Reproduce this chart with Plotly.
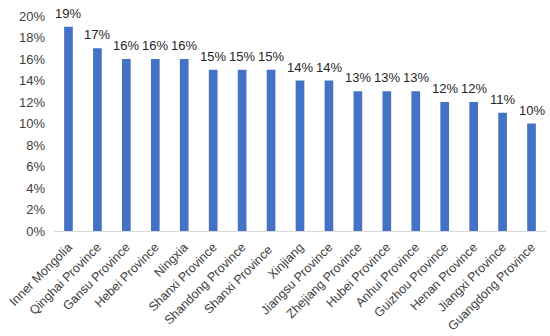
import plotly.graph_objects as go

categories = ["Inner Mongolia", "Qinghai Province", "Gansu Province", "Hebei Province",
              "Ningxia", "Shanxi Province", "Shandong Province", "Shanxi Province ",
              "Xinjiang", "Jiangsu Province", "Zhejiang Province", "Hubei Province",
              "Anhui Province", "Guizhou Province", "Henan Province", "Jiangxi Province",
              "Guangdong Province"]
values = [0.19, 0.17, 0.16, 0.16, 0.16, 0.15, 0.15, 0.15, 0.14, 0.14, 0.13, 0.13,
          0.13, 0.12, 0.12, 0.11, 0.10]
y_ticks = [0, 0.02, 0.04, 0.06, 0.08, 0.10, 0.12, 0.14, 0.16, 0.18, 0.20]
y_tick_labels = ["0%", "2%", "4%", "6%", "8%", "10%", "12%", "14%", "16%", "18%", "20%"]

font_family = "Liberation Sans, Arial, sans-serif"

fig = go.Figure()
fig.add_trace(go.Bar(
    x=categories, y=values,
    marker=dict(color="#4472C4", line=dict(width=0)),
    hoverinfo="skip",
))

for c, v in zip(categories, values):
    fig.add_annotation(
        x=c, y=v, xref="x", yref="y",
        text=f"{round(v*100)}%",
        showarrow=False, yanchor="bottom", xanchor="center",
        yshift=4,
        font=dict(family=font_family, size=13, color="#262626"),
    )

fig.update_layout(
    width=550, height=336,
    margin=dict(l=54, r=4, t=16, b=105),
    paper_bgcolor="white", plot_bgcolor="white",
    bargap=0.7,
    showlegend=False,
    font=dict(family=font_family),
)
fig.update_xaxes(
    range=[-0.5, len(categories) - 0.5],
    tickangle=-45,
    tickfont=dict(family=font_family, size=12.5, color="#404040"),
    showgrid=False, showline=True, linecolor="#D9D9D9", linewidth=1,
    ticks="", automargin=False, ticklabelstandoff=3,
)
fig.update_yaxes(
    range=[0, 0.2],
    tickvals=y_ticks, ticktext=y_tick_labels,
    tickfont=dict(family=font_family, size=13, color="#404040"),
    showgrid=False, zeroline=False, showline=False, ticks="",
    automargin=False, ticklabelstandoff=8,
)

fig.write_html("out.html", config={"displayModeBar": False},
               post_script="document.body.style.margin='0';")
